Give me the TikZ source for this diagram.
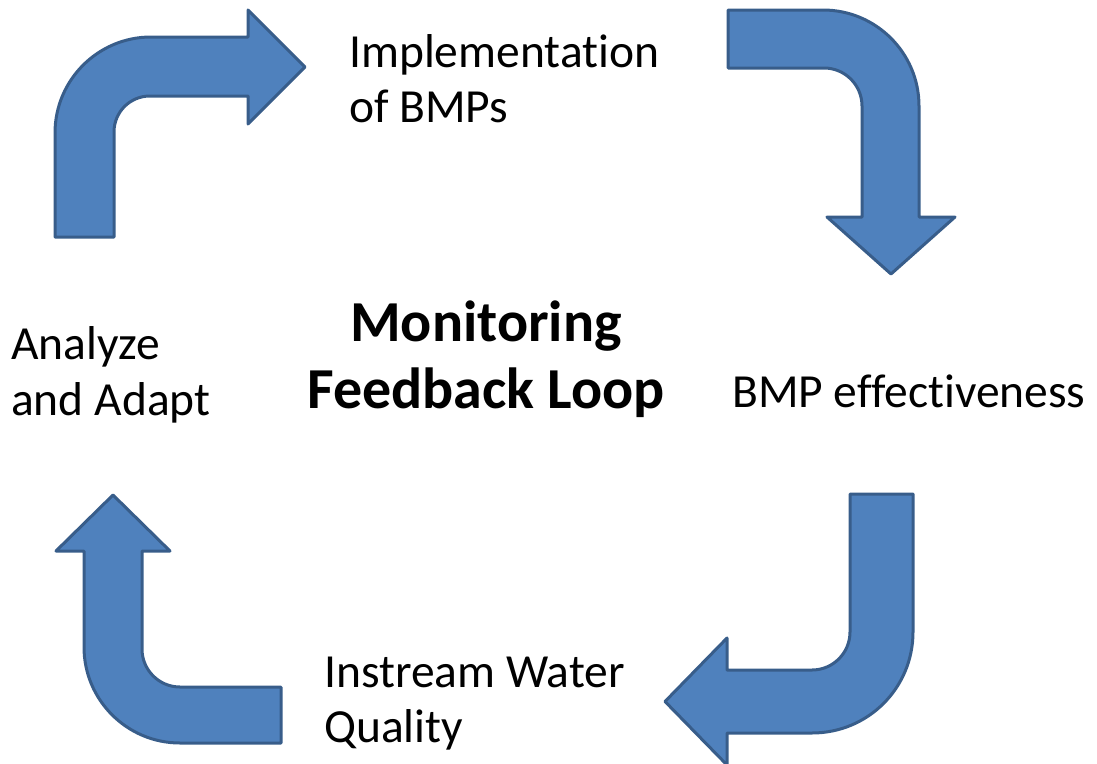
\documentclass[tikz,border=0pt]{standalone}
\usepackage{fontspec}
\setmainfont{Carlito}[RawFeature=-liga]
\definecolor{arrowfill}{RGB}{79,129,189}
\definecolor{arrowline}{RGB}{56,93,138}
\newcommand{\twolines}[3]{\vbox{\baselineskip=#3\lineskiplimit=-100pt\lineskip=0pt\hbox{#1}\hbox{#2}}}
\tikzset{
  bentarrow/.style={fill=arrowfill, draw=arrowline, line width=3pt, line join=round},
  lbl/.style={inner sep=0pt, font=\fontsize{47.5}{55}\selectfont},
  title/.style={inner sep=0pt, font=\fontsize{58}{67}\selectfont\bfseries}
}
\begin{document}
\begin{tikzpicture}[x=1pt,y=-1pt]
\useasboundingbox (0,0) rectangle (1097,763);
% top-left arrow (up then right)
\draw[bentarrow] (55,237) -- (55,133) .. controls (55,80) and (98,37) .. (151,37) -- (248,37) -- (248,10) -- (305,67) -- (248,124) -- (248,96) -- (150,96) .. controls (130,96) and (114,112) .. (114,132) -- (114,237) -- cycle;
% top-right arrow (right then down)
\draw[bentarrow] (728,10) -- (823,10) .. controls (876,10) and (919,53) .. (919,106) -- (919,217) -- (955,217) -- (891,274) -- (827,217) -- (862,217) -- (862,106) .. controls (862,85) and (845,68) .. (824,68) -- (728,68) -- cycle;
% bottom-right arrow (down then left)
\draw[bentarrow] (850,494) -- (913,494) -- (913,632) .. controls (913,688) and (868,733) .. (812,733) -- (727,733) -- (727,765) -- (665,701.5) -- (727,638) -- (727,670) -- (812,670) .. controls (833,670) and (850,653) .. (850,632) -- cycle;
% bottom-left arrow (left then up)
\draw[bentarrow] (113,495) -- (170,551) -- (142,551) -- (142,649) .. controls (142,670) and (159,687) .. (180,687) -- (281,687) -- (281,743) -- (180,743) .. controls (127,743) and (84,700) .. (84,647) -- (84,551) -- (56,551) -- cycle;
% labels
\node[lbl, anchor=base west] (impl) at (349,122) {\twolines{Implementation}{of BMPs}{55pt}};
\node[lbl, anchor=base west] (adapt) at (11,415) {\twolines{Analyze}{and Adapt}{56pt}};
\node[title, anchor=base] (loop) at (486,408) {\vbox{\baselineskip=67pt\lineskiplimit=-100pt\lineskip=0pt\halign{\hfil#\hfil\cr Monitoring\cr Feedback Loop\cr}}};
\node[lbl, anchor=base west] (eff) at (732,407) {BMP effectiveness};
\node[lbl, anchor=base west] (water) at (324,742) {\twolines{Instream Water}{Quality}{55pt}};
\end{tikzpicture}
\end{document}
